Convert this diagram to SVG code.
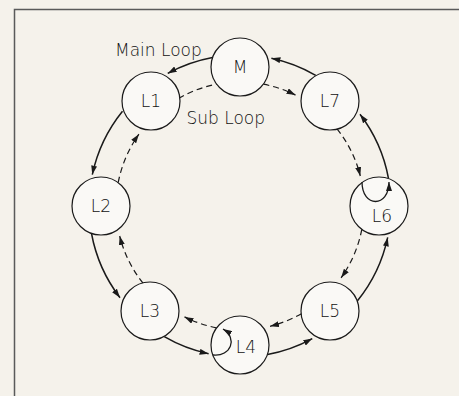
<svg xmlns="http://www.w3.org/2000/svg" width="459" height="396" viewBox="0 0 459 396">
<defs>
<marker id="ah" viewBox="0 0 9 6" refX="9" refY="3" markerWidth="9" markerHeight="6" markerUnits="userSpaceOnUse" orient="auto">
<path d="M0,0 L9,3 L0,6 z" fill="#1a1a1a"/>
</marker>
<style>
.main{fill:none;stroke:#1a1a1a;stroke-width:1.5;marker-end:url(#ah)}
.sub{fill:none;stroke:#1a1a1a;stroke-width:1.2;stroke-dasharray:6 4;marker-end:url(#ah)}
.self{fill:none;stroke:#1a1a1a;stroke-width:1.3;marker-end:url(#ah)}
.node circle{fill:#faf9f6;stroke:#1a1a1a;stroke-width:1.2}
text{font-family:"DejaVu Sans","Liberation Sans",sans-serif;font-size:17px;font-weight:200;fill:#111111}
.node text{text-anchor:middle}
</style>
</defs>
<rect x="0" y="0" width="459" height="396" fill="#f5f2eb"/>
<rect x="14.5" y="9.5" width="520" height="500" fill="#f5f2eb" stroke="#5a5a5a" stroke-width="1.5"/>
<g id="connectors">
<path class="main" d="M212.5,57.5 A151,151 0 0 0 167.7,73.4"/>
<path class="main" d="M122.5,111.2 A151,151 0 0 0 92.3,174.6"/>
<path class="main" d="M91.5,233.5 A151,151 0 0 0 120.0,297.7"/>
<path class="main" d="M164.3,336.6 A151,151 0 0 0 208.6,353.7"/>
<path class="main" d="M267.5,354.5 A151,151 0 0 0 312.3,338.6"/>
<path class="main" d="M357.5,300.8 A151,151 0 0 0 387.7,237.4"/>
<path class="main" d="M388.5,178.5 A151,151 0 0 0 360.0,114.3"/>
<path class="main" d="M315.7,75.4 A151,151 0 0 0 271.4,58.3"/>
<path class="sub" d="M263.4,84.2 A124,124 0 0 1 295.5,95.1"/>
<path class="sub" d="M337.0,128.8 A124,124 0 0 1 360.3,176.0"/>
<path class="sub" d="M361.8,229.4 A124,124 0 0 1 341.1,277.8"/>
<path class="sub" d="M301.4,313.7 A124,124 0 0 1 270.0,326.3"/>
<path class="sub" d="M216.5,327.8 A124,124 0 0 1 184.5,316.9"/>
<path class="sub" d="M143.0,283.2 A124,124 0 0 1 119.7,236.0"/>
<path class="sub" d="M118.2,182.6 A124,124 0 0 1 138.9,134.2"/>
<path class="sub" d="M178.6,98.3 A124,124 0 0 1 216.6,84.2" style="marker-end:none"/>
</g>
<g id="M" class="node"><circle cx="240" cy="67" r="29"/><text x="240" y="73">M</text></g>
<g id="L1" class="node"><circle cx="151" cy="101" r="29"/><text x="151" y="107">L1</text></g>
<g id="L2" class="node"><circle cx="101" cy="206" r="29"/><text x="101" y="212">L2</text></g>
<g id="L3" class="node"><circle cx="150" cy="311" r="29"/><text x="150" y="317">L3</text></g>
<g id="L4" class="node"><circle cx="240" cy="345" r="29"/><text x="246" y="353">L4</text></g>
<g id="L5" class="node"><circle cx="330" cy="311" r="29"/><text x="330" y="317">L5</text></g>
<g id="L6" class="node"><circle cx="379" cy="206" r="29"/><text x="382" y="222">L6</text></g>
<g id="L7" class="node"><circle cx="330" cy="101" r="29"/><text x="330" y="107">L7</text></g>
<g id="self-loops">
<path class="self" d="M362,182 C362,208 389,208 389,182"/>
<path class="self" d="M213,355 C231,357 238,338 223,329"/>
</g>
<text x="115" y="55.5">Main Loop</text>
<text x="186.5" y="124">Sub Loop</text>
</svg>
